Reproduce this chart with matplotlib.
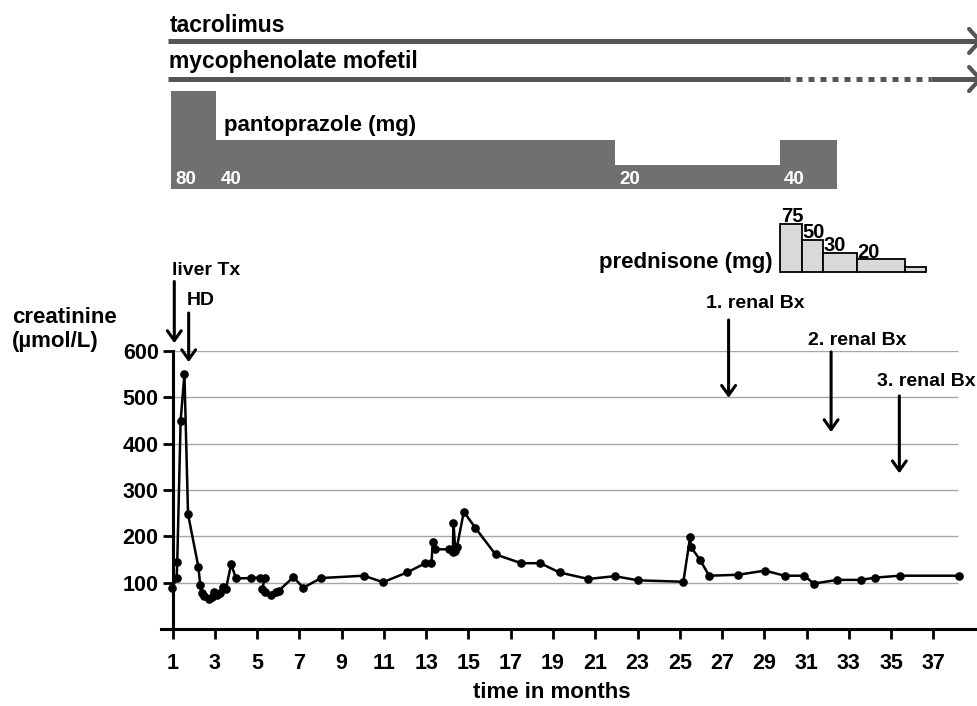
import matplotlib
matplotlib.use("Agg")
import matplotlib.pyplot as plt

plt.rcParams['font.family'] = ['Liberation Sans', 'DejaVu Sans']
plt.rcParams['font.weight'] = 'bold'

# creatinine course (months after liver Tx, umol/L)
months = [0.99, 1.19, 1.22, 1.38, 1.56, 1.73, 2.22, 2.31, 2.38, 2.50, 2.71, 2.85, 2.96,
          3.09, 3.25, 3.37, 3.52, 3.77, 4.00, 4.70, 5.14, 5.35, 5.25, 5.38, 5.65, 5.90,
          6.03, 6.72, 7.18, 8.03, 10.05, 10.96, 12.09, 12.96, 13.25, 13.31, 13.43, 14.07,
          14.26, 14.29, 14.38, 14.46, 14.78, 15.33, 16.28, 17.50, 18.40, 19.31, 20.67,
          21.92, 23.04, 25.17, 25.49, 25.53, 25.96, 26.39, 27.75, 29.03, 29.96, 30.89,
          31.34, 32.45, 33.58, 34.26, 35.41, 38.19]
creat = [89, 111, 145, 450, 550, 248, 134, 94, 77, 72, 65, 68, 80,
         73, 78, 90, 86, 140, 109, 110, 111, 110, 86, 80, 73, 80,
         83, 112, 89, 110, 115, 101, 122, 142, 142, 188, 172, 172,
         166, 229, 169, 178, 253, 218, 161, 142, 142, 122, 108,
         114, 105, 102, 199, 177, 149, 115, 117, 126, 115, 115,
         98, 106, 106, 111, 115, 115]

yticks = [100, 200, 300, 400, 500, 600]
xticks = list(range(1, 38, 2))

# events: label, month, arrow start, arrow tip (umol/L scale)
events = ["liver Tx", "HD", "1. renal Bx", "2. renal Bx", "3. renal Bx"]
ev_month = [1.08, 1.76, 27.31, 32.16, 35.39]
ev_from = [750, 682, 667, 598, 503]
ev_to = [617, 576, 499, 425, 336]

# pantoprazole
panto_start = [0.91, 3.05, 21.92, 29.72]
panto_end = [3.05, 21.92, 29.72, 32.46]
panto_dose = [80, 40, 20, 40]

# prednisone
pred_start = [29.75, 30.77, 31.76, 33.39, 35.65]
pred_end = [30.77, 31.76, 33.39, 35.65, 36.63]
pred_dose = [75, 50, 30, 20, 7.5]
pred_label = ["75", "50", "30", "20", ""]

# tacrolimus / MMF
drug_start = 0.8
drug_end = 39.21
mmf_dotted = (29.94, 36.9)

W, H = 978, 706
fig = plt.figure(figsize=(W / 100, H / 100), dpi=100)


def px(x, y):
    return x / W, 1 - y / H


ax_left, ax_right = 160.6, 975
x0 = 0.432
x1 = 38.97
ax = fig.add_axes([ax_left / W, 1 - 629 / H, (ax_right - ax_left) / W, (629 - 351) / H])
ax.set_xlim(x0, x1)
ax.set_ylim(0, 600)

ax.hlines(yticks, 1, 38.15, color='#a6a6a6', lw=1, zorder=1)
ax.plot(months, creat, color='black', lw=1.8, marker='o', ms=5.2, zorder=3)

for s in ['top', 'right']:
    ax.spines[s].set_visible(False)
ax.spines['left'].set_position(('data', 1))
ax.spines['left'].set_linewidth(2.2)
ax.spines['bottom'].set_linewidth(2.2)
ax.set_yticks(yticks)
ax.set_xticks(xticks)
ax.tick_params(axis='y', length=7, width=2, pad=3, labelsize=15.5)
ax.tick_params(axis='x', length=7, width=2, pad=10, labelsize=15.5)
for lab in ax.get_xticklabels() + ax.get_yticklabels():
    lab.set_fontweight('bold')

for m, a, b in zip(ev_month, ev_from, ev_to):
    ax.annotate('', xy=(m, b), xytext=(m, a), annotation_clip=False,
                arrowprops=dict(arrowstyle='->,head_length=0.7,head_width=0.5',
                                lw=2.2, color='black', shrinkA=0, shrinkB=0,
                                mutation_scale=10))

fs = 14
fig.text(*px(172, 275), events[0], fontsize=fs, fontweight='bold', va='baseline')
fig.text(*px(186.5, 305), events[1], fontsize=fs, fontweight='bold', va='baseline')
fig.text(*px(706.5, 308), events[2], fontsize=fs, fontweight='bold', va='baseline')
fig.text(*px(808, 345), events[3], fontsize=fs, fontweight='bold', va='baseline')
fig.text(*px(877, 386), events[4], fontsize=fs, fontweight='bold', va='baseline')

fig.text(*px(12, 322.7), "creatinine", fontsize=16, fontweight='bold', va='baseline')
fig.text(*px(12, 346.7), "(\u00b5mol/L)", fontsize=16, fontweight='bold', va='baseline')
fig.text(*px(552, 698), "time in months", fontsize=16, fontweight='bold',
         va='baseline', ha='center')

# top panel with medication
top = fig.add_axes([ax_left / W, 1 - 290 / H, (ax_right - ax_left) / W, 290 / H])
top.set_xlim(x0, x1)
top.set_ylim(290, 0)
top.axis('off')

dark = '#555555'
top.plot([drug_start, drug_end], [41, 41], color=dark, lw=3.6, solid_capstyle='butt',
         clip_on=False)
top.plot([drug_start, mmf_dotted[0]], [79, 79], color=dark, lw=3.6,
         solid_capstyle='butt', clip_on=False)
top.plot(list(mmf_dotted), [79, 79], color=dark, lw=3.6, ls=(0, (1.2, 1.2)),
         dash_capstyle='butt', clip_on=False)
top.plot([mmf_dotted[1], drug_end], [79, 79], color=dark, lw=3.6,
         solid_capstyle='butt', clip_on=False)
for yy in [41, 79]:
    top.plot([drug_end - 0.52, drug_end, drug_end - 0.52], [yy - 12, yy, yy + 12],
             color=dark, lw=3, solid_capstyle='round', clip_on=False)

top.text(0.85, 31.7, "tacrolimus", fontsize=16.5, fontweight='bold', va='baseline')
top.text(0.85, 68.3, "mycophenolate mofetil", fontsize=16.5, fontweight='bold',
         va='baseline')

pw = [e - s for s, e in zip(panto_start, panto_end)]
top.bar(panto_start, [-d * 1.23 for d in panto_dose], width=pw, bottom=189.3,
        align='edge', color='#707070', lw=0)
for s, d in zip(panto_start, panto_dose):
    top.text(s + 0.22, 180, str(d), color='white', fontsize=13.5, fontweight='bold',
             va='center')
top.text(3.44, 131, "pantoprazole (mg)", fontsize=16, fontweight='bold', va='baseline')

prw = [e - s for s, e in zip(pred_start, pred_end)]
top.bar(pred_start, [-d * 0.64 for d in pred_dose], width=prw, bottom=272,
        align='edge', color='#d9d9d9', edgecolor='black', lw=1.3)
for s, d, l in zip(pred_start, pred_dose, pred_label):
    top.text(s + 0.03, 272 - d * 0.64 - 1.5, l, fontsize=14.5, fontweight='bold',
             va='baseline')
fig.text(*px(773, 268.3), "prednisone (mg)", fontsize=16, fontweight='bold',
         va='baseline', ha='right')

fig.savefig('out.png', dpi=100)
